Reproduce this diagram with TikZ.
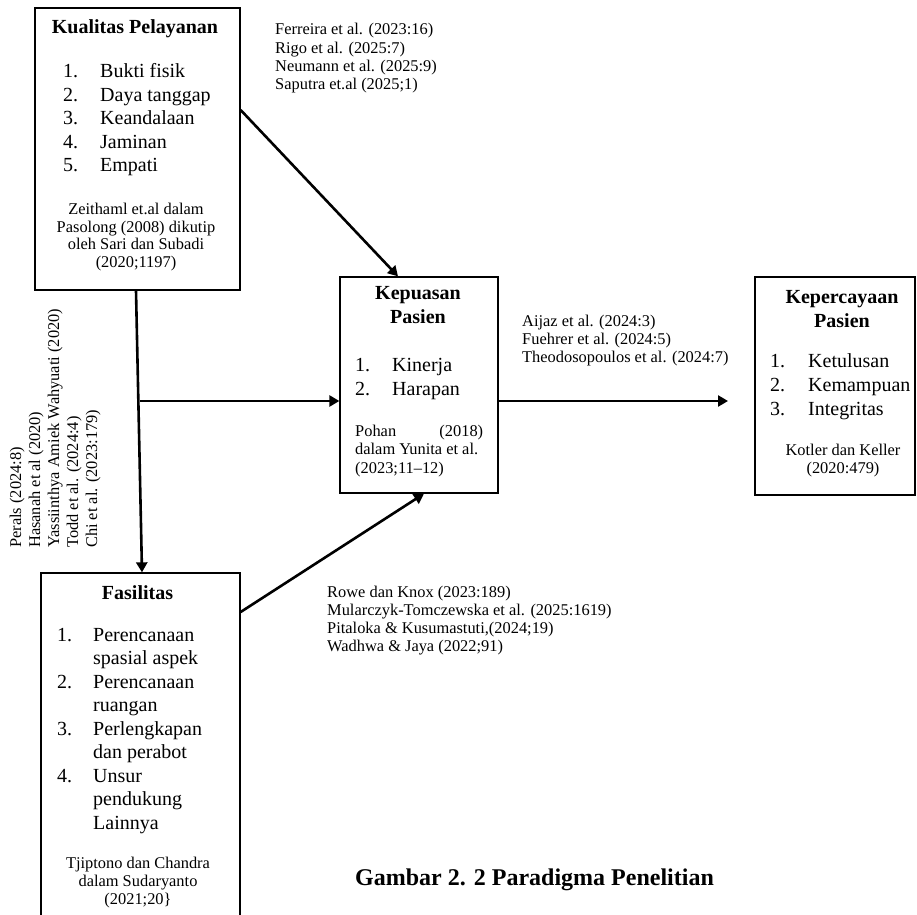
\documentclass[tikz,border=0pt]{standalone}
\usepackage{fontspec}
\setmainfont{Liberation Serif}
\usetikzlibrary{arrows.meta,positioning}
\tikzset{kotak/.style={rectangle,draw=black,line width=1.3pt,inner sep=0pt},
 judul/.style={inner sep=0pt,font=\fontsize{20}{23.5}\selectfont\bfseries},
 butir/.style={inner sep=0pt,font=\fontsize{20}{23.5}\selectfont},
 sumber/.style={inner sep=0pt,font=\fontsize{16.4}{#1}\selectfont},
 sumber/.default=18,
 keterangan/.style={inner sep=0pt,font=\fontsize{24}{28}\selectfont\bfseries},
 panah/.style={draw=black,line width=2.6pt,-{Triangle[length=10pt,width=11pt]}}}

\begin{document}
\begin{tikzpicture}[x=1pt,y=1pt]
 \useasboundingbox (0,0) rectangle (917,914);
 \clip (0,0) rectangle (917,914);
 % kotak variabel
 \node[kotak,minimum width=205pt,minimum height=282pt] (kualitas) at (137.5,765) {};
 \node[kotak,minimum width=158pt,minimum height=216pt] (kepuasan) at (419,529) {};
 \node[kotak,minimum width=160pt,minimum height=218pt] (kepercayaan) at (835,528) {};
 \node[kotak,minimum width=199pt,minimum height=361pt] (fasilitas) at (140.5,160.5) {};
 % Kualitas Pelayanan
 \node[judul,anchor=base] (kualitasjudul) at (135,880) {Kualitas Pelayanan};
 \node[butir,anchor=base west] (kualitasbutir) at (63,836)
  {\begin{tabular}[t]{@{}l@{\hspace{22pt}}l@{}}
   1.&Bukti fisik\\2.&Daya tanggap\\3.&Keandalaan\\4.&Jaminan\\5.&Empati
  \end{tabular}};
 \node[sumber=17.4,anchor=base] (kualitassumber) at (136,699)
  {\begin{tabular}[t]{@{}c@{}}
   Zeithaml et.al dalam\\Pasolong (2008) dikutip\\oleh Sari dan Subadi\\(2020;1197)
  \end{tabular}};
 % Kepuasan Pasien
 \node[judul,anchor=base] (kepuasanjudul) at (418,614)
  {\begin{tabular}[t]{@{}c@{}}Kepuasan\\Pasien\end{tabular}};
 \node[butir,anchor=base west] (kepuasanbutir) at (355,542)
  {\begin{tabular}[t]{@{}l@{\hspace{22pt}}l@{}}1.&Kinerja\\2.&Harapan\end{tabular}};
 \node[sumber=18.5,anchor=base west] (kepuasansumber) at (355,478)
  {\begin{tabular}[t]{@{}l@{}}
   \makebox[128pt]{Pohan\hfill(2018)}\\dalam Yunita et al.\\(2023;11--12)
  \end{tabular}};
 % Kepercayaan Pasien
 \node[judul,anchor=base] (kepercayaanjudul) at (842,610)
  {\begin{tabular}[t]{@{}c@{}}Kepercayaan\\Pasien\end{tabular}};
 \node[butir,anchor=base west] (kepercayaanbutir) at (770,546)
  {\begin{tabular}[t]{@{}l@{\hspace{23pt}}l@{}}
   1.&Ketulusan\\2.&Kemampuan\\3.&Integritas
  \end{tabular}};
 \node[sumber,anchor=base] (kepercayaansumber) at (843,459)
  {\begin{tabular}[t]{@{}c@{}}Kotler dan Keller\\(2020:479)\end{tabular}};
 % Fasilitas
 \node[judul,anchor=base] (fasilitasjudul) at (137.5,315) {Fasilitas};
 \node[butir,anchor=base west] (fasilitasbutir) at (57,273)
  {\begin{tabular}[t]{@{}l@{\hspace{21pt}}l@{}}
   1.&Perencanaan\\&spasial aspek\\2.&Perencanaan\\&ruangan\\
   3.&Perlengkapan\\&dan perabot\\4.&Unsur\\&pendukung\\&Lainnya
  \end{tabular}};
 \node[sumber,anchor=base] (fasilitassumber) at (138,46)
  {\begin{tabular}[t]{@{}c@{}}
   Tjiptono dan Chandra\\dalam Sudaryanto\\(2021;20\}
  \end{tabular}};
 % rujukan pada panah
 \node[sumber=18.3,anchor=base west] (rujukana) at (275,879)
  {\begin{tabular}[t]{@{}l@{}}
   Ferreira et al. (2023:16)\\Rigo et al. (2025:7)\\Neumann et al. (2025:9)\\Saputra et.al (2025;1)
  \end{tabular}};
 \node[sumber,anchor=base west] (rujukanb) at (522,587)
  {\begin{tabular}[t]{@{}l@{}}
   Aijaz et al. (2024:3)\\Fuehrer et al. (2024:5)\\Theodosopoulos et al. (2024:7)
  \end{tabular}};
 \node[sumber,anchor=base west] (rujukanc) at (327,317)
  {\begin{tabular}[t]{@{}l@{}}
   Rowe dan Knox (2023:189)\\Mularczyk-Tomczewska et al. (2025:1619)\\
   Pitaloka \& Kusumastuti,(2024;19)\\Wadhwa \& Jaya (2022;91)
  \end{tabular}};
 \node[sumber=19,anchor=base west,rotate=90] (rujukand) at (21,366)
  {\begin{tabular}[t]{@{}l@{}}
   Perals (2024:8)\\Hasanah et al (2020)\\Yassiinthya Amiek Wahyuati (2020)\\
   Todd et al. (2024:4)\\Chi et al. (2023:179)
  \end{tabular}};
 \node[keterangan,anchor=base west] (gambar) at (355,29) {Gambar 2. 2 Paradigma Penelitian};
 % panah
 \coordinate (cabang) at (140,513);
 \coordinate (ujung) at (728,513);
 \draw[panah] (kualitas.east |- 0,804) -- (kepuasan.north -| 398,0);
 \draw[panah] (kualitas.south -| 136,0) -- (fasilitas.north -| 142,0);
 \draw[panah] (cabang) -- (kepuasan.west |- cabang);
 \draw[panah] (kepuasan.east |- ujung) -- (ujung);
 \draw[panah] (fasilitas.east |- 0,302) -- (kepuasan.south -| 424,0);
\end{tikzpicture}
\end{document}
